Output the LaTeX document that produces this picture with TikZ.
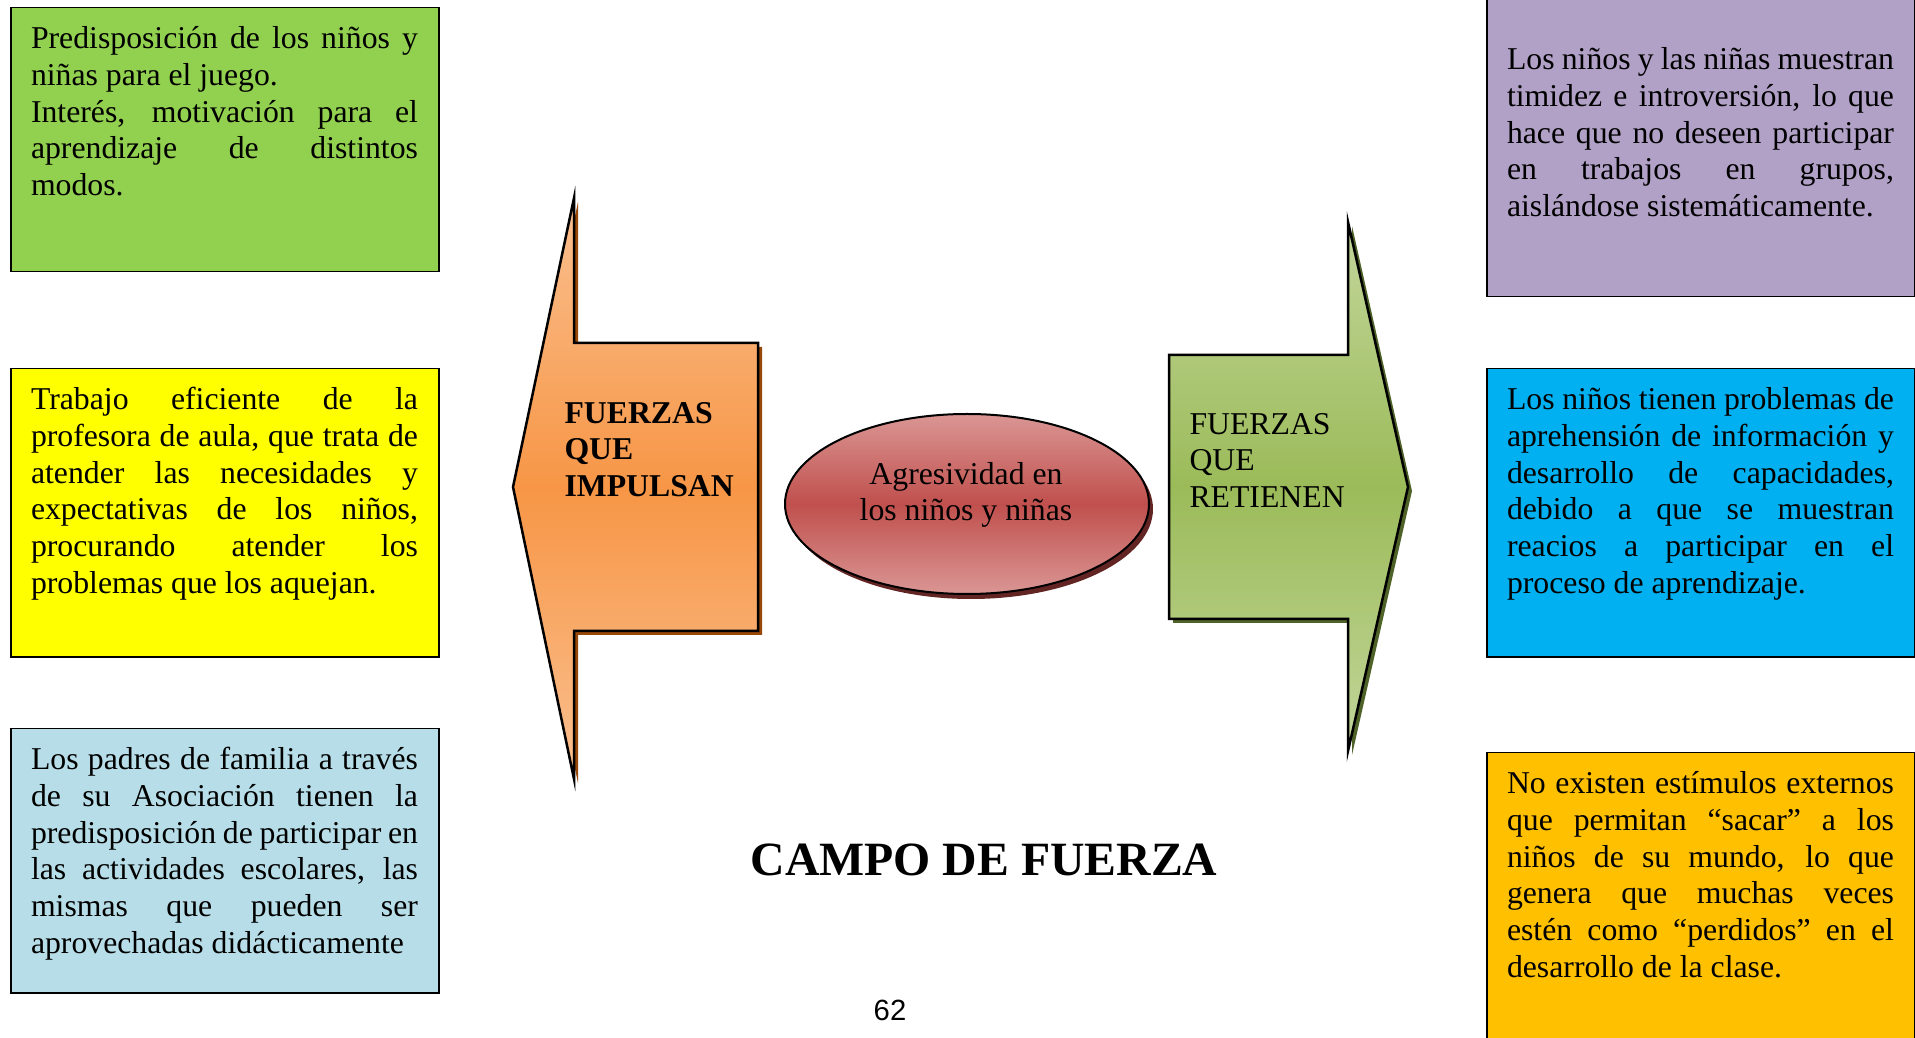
\documentclass[tikz,border=0pt]{standalone}
\usepackage{fontspec}
\setmainfont{Liberation Serif}
\newfontfamily\pagenumfont{Liberation Sans}
\usepackage{tikz}
\usetikzlibrary{shapes.geometric, positioning, calc}
\definecolor{greenbox}{HTML}{92D050}
\definecolor{yellowbox}{HTML}{FFFF00}
\definecolor{bluebox}{HTML}{B7DEE8}
\definecolor{purplebox}{HTML}{B2A1C7}
\definecolor{cyanbox}{HTML}{00B0F0}
\definecolor{orangebox}{HTML}{FFC000}
\definecolor{pushlight}{HTML}{FAC090}
\definecolor{pushmid}{HTML}{F79646}
\definecolor{pushshadow}{HTML}{984807}
\definecolor{holdlight}{HTML}{C3D69B}
\definecolor{holdmid}{HTML}{9BBB59}
\definecolor{holdshadow}{HTML}{4F6228}
\definecolor{focuslight}{HTML}{DA9694}
\definecolor{focusmid}{HTML}{C0504D}
\definecolor{focusshadow}{HTML}{632523}
\newcommand{\boxfont}{\fontsize{12.7}{14.66}\selectfont}

\begin{document}
\begin{tikzpicture}[
    x=0.4pt, y=-0.4pt,
    box/.style={draw, line width=0.6pt, anchor=north west, inner sep=0pt, minimum width=171.2pt},
    boxtext/.style={anchor=north west, inner sep=0pt, text width=154.8pt, align=justify, font=\boxfont},
    forcetext/.style={anchor=north west, inner sep=0pt, align=left, font=\boxfont},
    arrowline/.style={draw=black, line width=1pt, line join=miter}
]
    \fill[white] (0,0) rectangle (1915,1038);
    \useasboundingbox (0,0) rectangle (1915,1038);
    \clip (0,0) rectangle (1915,1038);

    % left column
    \node[box, fill=greenbox, minimum height=105.6pt] (juego) at (10,7) {};
    \node[box, fill=yellowbox, minimum height=115.2pt] (profesora) at (10,368) {};
    \node[box, fill=bluebox, minimum height=105.6pt] (padres) at (10,728) {};

    \node[boxtext] (juegotxt) at ([xshift=8.2pt, yshift=-6.3pt]juego.north west) {\strut Predisposición de los niños y\linebreak niñas para el juego.\\
        Interés, motivación para el\linebreak aprendizaje de distintos\linebreak modos.};
    \node[boxtext] (profesoratxt) at ([xshift=8.2pt, yshift=-6.3pt]profesora.north west) {\strut Trabajo eficiente de la\linebreak profesora de aula, que trata de\linebreak atender las necesidades y\linebreak expectativas de los niños,\linebreak procurando atender los\linebreak problemas que los aquejan.};
    \node[boxtext] (padrestxt) at ([xshift=8.2pt, yshift=-6.3pt]padres.north west) {\strut Los padres de familia a través\linebreak de su Asociación tienen la\linebreak predisposición de participar en\linebreak las actividades escolares, las\linebreak mismas que pueden ser\linebreak aprovechadas didácticamente};

    % right column
    \node[box, fill=purplebox, minimum height=122.4pt] (timidez) at (1486,-10) {};
    \node[box, fill=cyanbox, minimum height=115.2pt] (aprehension) at (1486,368) {};
    \node[box, fill=orangebox, minimum height=120pt] (estimulos) at (1486,752) {};

    \node[boxtext] (timideztxt) at ([xshift=8.2pt, yshift=-21.5pt]timidez.north west) {\strut Los niños y las niñas muestran\linebreak timidez e introversión, lo que\linebreak hace que no deseen participar\linebreak en trabajos en grupos,\linebreak aislándose sistemáticamente.};
    \node[boxtext] (aprehensiontxt) at ([xshift=8.2pt, yshift=-6.3pt]aprehension.north west) {\strut Los niños tienen problemas de\linebreak aprehensión de información y\linebreak desarrollo de capacidades,\linebreak debido a que se muestran\linebreak reacios a participar en el\linebreak proceso de aprendizaje.};
    \node[boxtext] (estimulostxt) at ([xshift=8.2pt, yshift=-6.3pt]estimulos.north west) {\strut No existen estímulos externos\linebreak que permitan “sacar” a los\linebreak niños de su mundo, lo que\linebreak genera que muchas veces\linebreak estén como “perdidos” en el\linebreak desarrollo de la clase.};

    % forces that push
    \fill[pushshadow] (517,491) -- (578,202) -- (578,347) -- (762,347) -- (762,635) -- (578,635) -- (578,783) -- cycle;
    \shadedraw[arrowline, top color=pushlight, bottom color=pushlight, middle color=pushmid]
        (513,487) -- (574,198) -- (574,343) -- (758,343) -- (758,631) -- (574,631) -- (574,779) -- cycle;
    \node[forcetext, font=\boxfont\bfseries] (impulsan) at (564,397) {\strut FUERZAS\\QUE\\IMPULSAN};

    % forces that hold back
    \fill[holdshadow] (1173,359) -- (1352,359) -- (1352,226) -- (1412,491) -- (1352,755) -- (1352,623) -- (1173,623) -- cycle;
    \shadedraw[arrowline, top color=holdlight, bottom color=holdlight, middle color=holdmid]
        (1169,355) -- (1348,355) -- (1348,222) -- (1408,487) -- (1348,751) -- (1348,619) -- (1169,619) -- cycle;
    \node[forcetext] (retienen) at (1189,408) {\strut FUERZAS\\QUE\\RETIENEN};

    % problem in the middle
    \fill[focusshadow] (971,509) ellipse [x radius=182, y radius=90];
    \node[ellipse, draw, line width=0.8pt, minimum width=145.6pt, minimum height=72pt,
        top color=focuslight, bottom color=focuslight, middle color=focusmid] (agresividad) at (967,504) {};
    \node[forcetext, anchor=north, align=center] (agresividadtxt) at (966,458) {\strut Agresividad en\\los niños y niñas};

    \node[anchor=base, inner sep=0pt, font=\bfseries\fontsize{19.1}{23}\selectfont] (titulo) at (984,875) {CAMPO DE FUERZA};
    \node[anchor=base, inner sep=0pt, font=\pagenumfont\fontsize{11.7}{14}\selectfont] (pagina) at (890,1020) {62};
\end{tikzpicture}
\end{document}
